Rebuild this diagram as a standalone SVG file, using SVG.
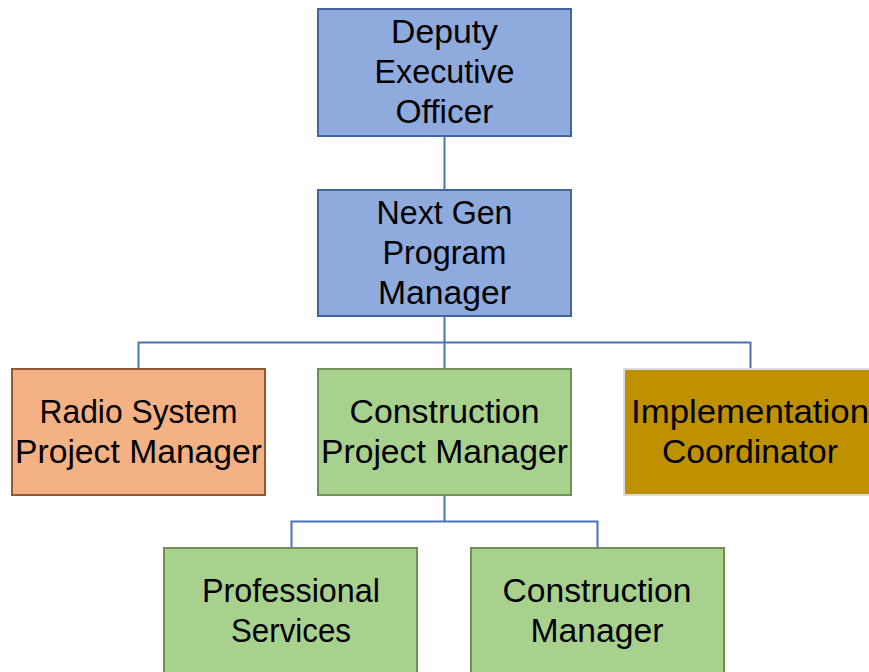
<svg xmlns="http://www.w3.org/2000/svg" width="869" height="672" viewBox="0 0 869 672">
<style>
.b{fill:#8faadc;stroke:#41659e;stroke-width:2}
.o{fill:#f4b183;stroke:#8d5a36;stroke-width:2}
.g{fill:#a9d18e;stroke:#6e8f57;stroke-width:2}
.y{fill:#bf9000;stroke:#dcdcdc;stroke-width:2}
text{font-family:"Liberation Sans",Arial,sans-serif;font-size:33px;fill:#000;text-anchor:middle}
.c{fill:none;stroke:#4a72b8;stroke-width:2}
</style>
<rect width="869" height="672" fill="#fff"/>
<g id="connectors">
<path class="c" d="M444.5 136V190"/>
<path class="c" d="M444.5 316V342.5M138.5 369V342.5H750.5V369M444.5 342.5V369"/>
<path class="c" d="M444.5 495V521.5M291.5 548V521.5H597.5V548"/>
</g>
<g id="deputy">
<rect class="b" x="318" y="9" width="253" height="127"/>
<text x="444.5" y="43" textLength="107" lengthAdjust="spacingAndGlyphs">Deputy</text>
<text x="444.5" y="83" textLength="140" lengthAdjust="spacingAndGlyphs">Executive</text>
<text x="444.5" y="123" textLength="98" lengthAdjust="spacingAndGlyphs">Officer</text>
</g>
<g id="nextgen">
<rect class="b" x="318" y="190" width="253" height="126"/>
<text x="444.5" y="224" textLength="136" lengthAdjust="spacingAndGlyphs">Next Gen</text>
<text x="444.5" y="264" textLength="124" lengthAdjust="spacingAndGlyphs">Program</text>
<text x="444.5" y="304" textLength="133" lengthAdjust="spacingAndGlyphs">Manager</text>
</g>
<g id="radio">
<rect class="o" x="12" y="369" width="253" height="126"/>
<text x="138.5" y="423" textLength="198" lengthAdjust="spacingAndGlyphs">Radio System</text>
<text x="138.5" y="463" textLength="247" lengthAdjust="spacingAndGlyphs">Project Manager</text>
</g>
<g id="constpm">
<rect class="g" x="318" y="369" width="253" height="126"/>
<text x="444.5" y="423" textLength="190" lengthAdjust="spacingAndGlyphs">Construction</text>
<text x="444.5" y="463" textLength="247" lengthAdjust="spacingAndGlyphs">Project Manager</text>
</g>
<g id="impl">
<rect class="y" x="624" y="369" width="253" height="126"/>
<text x="750" y="423" textLength="238" lengthAdjust="spacingAndGlyphs">Implementation</text>
<text x="750" y="463" textLength="176" lengthAdjust="spacingAndGlyphs">Coordinator</text>
</g>
<g id="profserv">
<rect class="g" x="164" y="548" width="253" height="130"/>
<text x="291" y="602" textLength="178" lengthAdjust="spacingAndGlyphs">Professional</text>
<text x="291" y="642" textLength="120" lengthAdjust="spacingAndGlyphs">Services</text>
</g>
<g id="constmgr">
<rect class="g" x="471" y="548" width="253" height="130"/>
<text x="597" y="602" textLength="189" lengthAdjust="spacingAndGlyphs">Construction</text>
<text x="597" y="642" textLength="133" lengthAdjust="spacingAndGlyphs">Manager</text>
</g>
</svg>
